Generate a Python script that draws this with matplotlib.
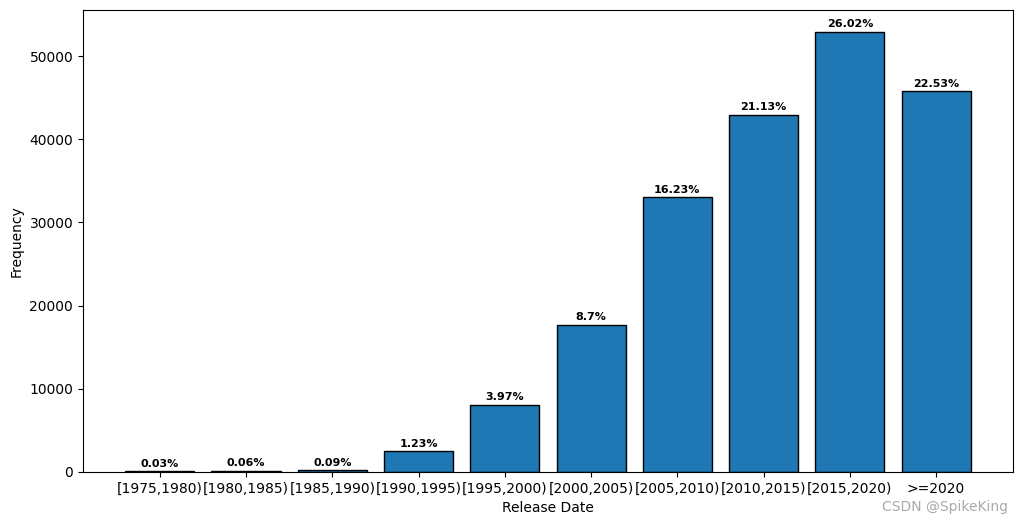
import matplotlib
matplotlib.use("Agg")
import matplotlib.pyplot as plt

# release date bins and counts
bins = ['[1975,1980)', '[1980,1985)', '[1985,1990)', '[1990,1995)', '[1995,2000)',
        '[2000,2005)', '[2005,2010)', '[2010,2015)', '[2015,2020)', '>=2020']
counts = [61, 122, 183, 2500, 8070, 17690, 33000, 42960, 52900, 45800]
percents = ['0.03%', '0.06%', '0.09%', '1.23%', '3.97%',
            '8.7%', '16.23%', '21.13%', '26.02%', '22.53%']

fig = plt.figure(figsize=(10.23, 5.25), dpi=100)
ax = fig.add_axes([0.0811, 0.101, 0.909, 0.880])
bars = ax.bar(bins, counts, edgecolor='black', color='#1f77b4')
for b, p in zip(bars, percents):
    ax.text(b.get_x() + b.get_width() / 2, b.get_height() + 300, p,
            ha='center', va='bottom', fontsize=8, fontweight='bold')

ax.set_xlabel('Release Date')
ax.set_ylabel('Frequency')
fig.text(0.985, 0.02, 'CSDN @SpikeKing', ha='right', va='bottom',
         fontsize=10, color='#aaaaaa')

plt.savefig('out.png', dpi=100)
